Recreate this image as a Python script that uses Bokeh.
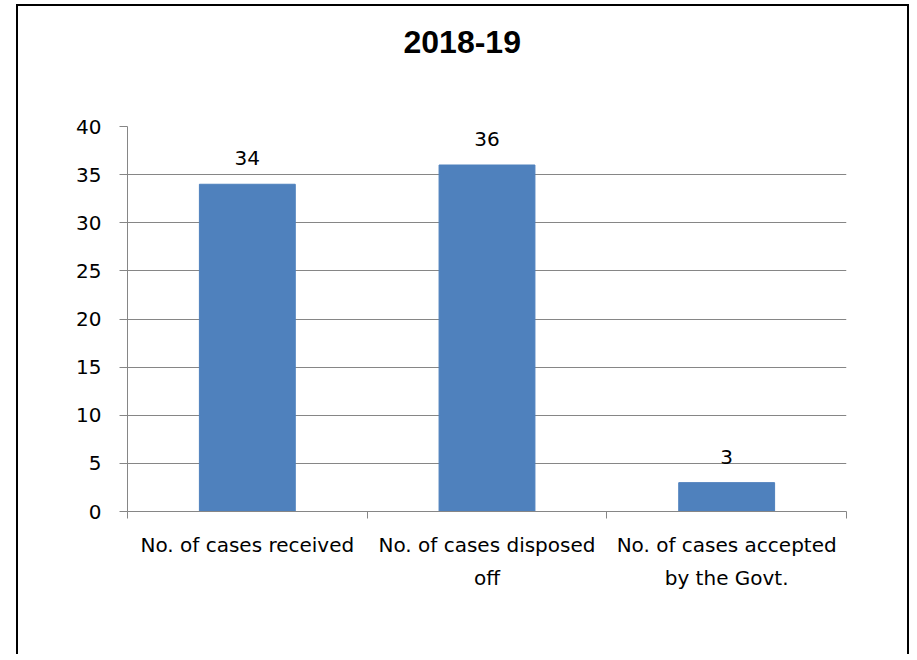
from bokeh.plotting import figure
from bokeh.models import (Range1d, FixedTicker, ColumnDataSource, LabelSet, Spacer, Title)
from bokeh.layouts import row, column
from bokeh.core.properties import value
from bokeh.embed import file_html
from bokeh.resources import INLINE

# ---- data ----
title_text = "2018-19"
categories = ["No. of cases received", "No. of cases disposed\noff", "No. of cases accepted\nby the Govt."]
values = [34, 36, 3]
y_ticks = [0, 5, 10, 15, 20, 25, 30, 35, 40]

BAR = "#4F81BD"
GRID = "#868686"
FONT = "DejaVu Sans"

centers = [i + 0.5 for i in range(len(categories))]
bounds = [i for i in range(len(categories) + 1)]

src = ColumnDataSource(dict(x=centers, top=values, lbl=[str(v) for v in values]))

p = figure(width=893, height=650, x_range=Range1d(0, len(categories)), y_range=Range1d(0, 40),
           output_backend="svg", toolbar_location=None,
           min_border_left=109, min_border_right=65, min_border_top=120, min_border_bottom=145)
p.outline_line_color = None
p.background_fill_color = "white"
p.border_fill_color = "white"

p.vbar(x="x", top="top", width=0.4, bottom=0, source=src, fill_color=BAR, line_color=BAR)

labels = LabelSet(x="x", y="top", text="lbl", source=src, text_align="center",
                  text_baseline="alphabetic", y_offset=19, text_font=value(FONT),
                  text_font_size=value("20px"), text_color=value("black"))
p.add_layout(labels)

# spacer title between frame and main title
p.add_layout(Title(text=" ", text_font_size="51px"), "above")

# title
p.title.text = title_text
p.title.align = "left"
p.title.offset = 276
p.title.text_font = "Liberation Sans"
p.title.text_font_style = "bold"
p.title.text_font_size = "32px"
p.title.text_color = "black"

# x axis
xa = p.xaxis[0]
xa.ticker = FixedTicker(ticks=centers, minor_ticks=bounds)
xa.major_label_overrides = {c: lab for c, lab in zip(centers, categories)}
xa.major_tick_line_color = None
xa.minor_tick_line_color = GRID
xa.minor_tick_out = 7
xa.minor_tick_in = 0
xa.axis_line_color = GRID
xa.major_label_text_font = FONT
xa.major_label_text_font_size = "20px"
xa.major_label_text_color = "black"
xa.major_label_text_line_height = 1.4
xa.major_label_standoff = 14

# y axis
ya = p.yaxis[0]
ya.ticker = FixedTicker(ticks=y_ticks)
ya.axis_line_color = GRID
ya.major_tick_line_color = GRID
ya.major_tick_out = 8
ya.major_tick_in = 0
ya.minor_tick_line_color = None
ya.major_label_text_font = FONT
ya.major_label_text_font_size = "20px"
ya.major_label_text_color = "black"
ya.major_label_standoff = 18

p.xgrid.grid_line_color = None
p.ygrid.ticker = FixedTicker(ticks=y_ticks)
p.ygrid.grid_line_color = GRID
p.ygrid.grid_line_width = 1

p.styles = {"border-top": "2px solid black", "border-left": "2px solid black",
            "border-right": "2px solid black"}

layout = column(Spacer(height=4), row(Spacer(width=16), p))
open("out.html", "w").write(file_html(layout, INLINE))
